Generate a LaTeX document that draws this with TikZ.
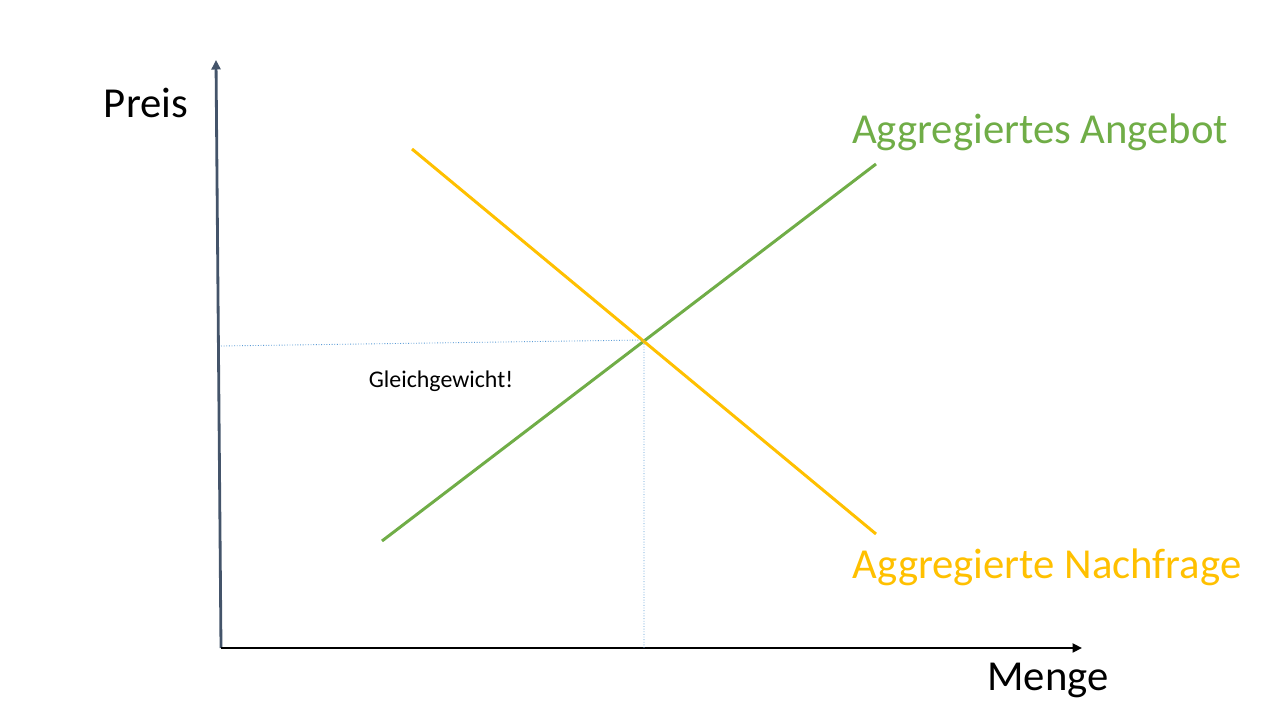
\documentclass[tikz,border=0pt]{standalone}
\usepackage{fontspec}
\setmainfont{Carlito}
\usetikzlibrary{arrows.meta,positioning}
\definecolor{axisgray}{HTML}{44546A}
\definecolor{angebot}{HTML}{70AD47}
\definecolor{nachfrage}{HTML}{FFC000}
\definecolor{hilfslinie}{HTML}{5B9BD5}
\begin{document}
\begin{tikzpicture}[x = .2mm, y = .2mm,
  achse/.style = {line width = 1.6pt, -{Triangle[length = 1.9mm, width = 1.8mm]}},
  kurve/.style = {line width = 1.7pt},
  hilfe/.style = {hilfslinie, line width = .5pt, densely dotted},
  gross/.style = {font = \fontsize{24.3}{28}\selectfont}]
\useasboundingbox (0,0) rectangle (1280,720);
% Achsen
\coordinate (O) at (221,72);
\coordinate (ytop) at (216,660);
\coordinate (xend) at (1082,72);
\draw[achse, axisgray] (O) -- (ytop);
\draw[achse, black] (O) -- (xend);
\node[gross] (preis) at (146,617) {Preis};
\node[gross] (menge) at (1048,40) {Menge};
% Kurven
\coordinate (a1) at (382,179);
\coordinate (a2) at (876,556);
\coordinate (n1) at (412,571);
\coordinate (n2) at (876,186);
\draw[kurve, angebot] (a1) -- (a2);
\draw[kurve, nachfrage] (n1) -- (n2);
\node[gross, angebot] (angebottext) at (1040,588) {Aggregiertes Angebot};
\node[gross, nachfrage] (nachfragetext) at (1047,153) {Aggregierte Nachfrage};
% Gleichgewicht
\coordinate (gg) at (644,380);
\coordinate (gy) at (221,374);
\coordinate (gx) at (644,72);
\draw[hilfe] (gy) -- (gg) -- (gx);
\node[font = \fontsize{13.6}{16}\selectfont] (ggtext) at (441,339) {Gleichgewicht!};
\end{tikzpicture}
\end{document}
